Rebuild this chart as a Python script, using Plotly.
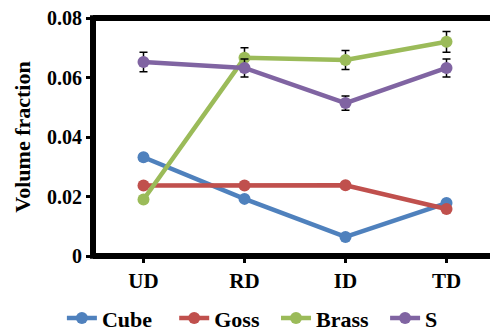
import plotly.graph_objects as go

categories = ["UD", "RD", "ID", "TD"]
cube = [0.0332, 0.0192, 0.0064, 0.0178]
goss = [0.0237, 0.0237, 0.0238, 0.0158]
brass = [0.0190, 0.0666, 0.0659, 0.0720]
s_tex = [0.0652, 0.0632, 0.0514, 0.0632]
cube_err = [0.0012, 0, 0, 0]
goss_err = [0, 0, 0, 0]
brass_err = [0, 0.0034, 0.0032, 0.0035]
s_err = [0.0033, 0.0030, 0.0024, 0.0030]

series = [
    ("Cube", cube, cube_err, "#4F81BD"),
    ("Goss", goss, goss_err, "#C0504D"),
    ("Brass", brass, brass_err, "#9BBB59"),
    ("S", s_tex, s_err, "#8064A2"),
]
legend_ids = ["legend", "legend2", "legend3", "legend4"]
legend_x = [-0.077, 0.201, 0.453, 0.723]

font_family = "Liberation Serif"

fig = go.Figure()
for (name, vals, err, color), lid in zip(series, legend_ids):
    fig.add_trace(go.Scatter(
        x=categories, y=vals, name="<b>" + name + "</b>", mode="lines+markers",
        line=dict(color=color, width=4.5),
        marker=dict(color=color, size=12),
        error_y=dict(type="data", array=err, visible=True, color="black",
                     thickness=1.5, width=4),
        legend=lid,
    ))

legend_style = dict(orientation="h", xanchor="left", y=-0.35, yanchor="bottom",
                    font=dict(family=font_family, size=22, color="black"),
                    bgcolor="rgba(0,0,0,0)")
legends = {lid: dict(legend_style, x=lx) for lid, lx in zip(legend_ids, legend_x)}

# page body has an 8px default margin, so the figure is sized to fit the window
fig.update_layout(
    width=490, height=326,
    margin=dict(l=85, r=1, t=10, b=78, autoexpand=False),
    plot_bgcolor="white", paper_bgcolor="white",
    font=dict(family=font_family, size=19, color="black"),
    showlegend=True,
    xaxis=dict(
        type="category", range=[-0.5, 3.5],
        showline=False,
        ticks="outside", ticklen=6, tickwidth=3, tickcolor="black",
        showgrid=False, zeroline=False,
        tickfont=dict(family=font_family, size=21, color="black"),
        tickprefix="<b>", ticksuffix="</b>",
    ),
    yaxis=dict(
        range=[0, 0.08], tickvals=[0, 0.02, 0.04, 0.06, 0.08],
        ticktext=["<b>0</b>", "<b>0.02</b>", "<b>0.04</b>", "<b>0.06</b>", "<b>0.08</b>"],
        ticklabeloverflow="allow",
        showline=False,
        ticks="outside", ticklen=6, tickwidth=3, tickcolor="black",
        showgrid=False, zeroline=False,
        tickfont=dict(family=font_family, size=20, color="black"),
        title=dict(text="<b>Volume fraction</b>", standoff=10,
                   font=dict(family=font_family, size=22, color="black")),
    ),
    **legends,
)

# frame: right edge thin gray, other edges thick black
fig.add_shape(type="line", xref="paper", yref="paper", x0=1, x1=1, y0=0, y1=1,
              line=dict(color="#999999", width=1.5), layer="above")
fig.add_shape(type="line", xref="paper", yref="paper", x0=0, x1=0, y0=-0.012, y1=1.012,
              line=dict(color="black", width=6), layer="above")
fig.add_shape(type="line", xref="paper", yref="paper", x0=0, x1=1, y0=0, y1=0,
              line=dict(color="black", width=6), layer="above")
fig.add_shape(type="line", xref="paper", yref="paper", x0=0, x1=1, y0=1, y1=1,
              line=dict(color="black", width=6), layer="above")

fig.write_html("out.html")
